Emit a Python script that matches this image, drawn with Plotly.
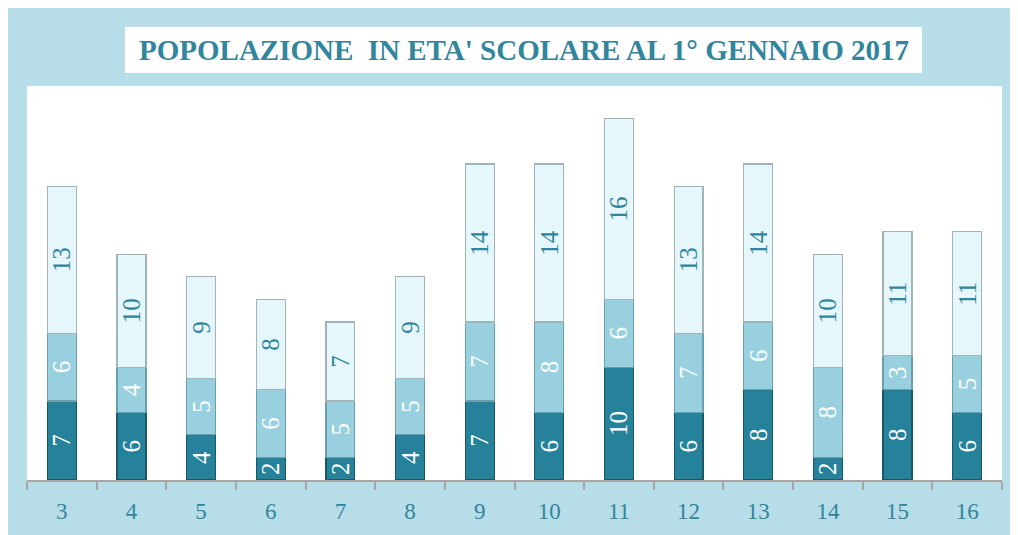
import plotly.graph_objects as go

categories = ["3", "4", "5", "6", "7", "8", "9", "10", "11", "12", "13", "14", "15", "16"]
series_bottom = [7, 6, 4, 2, 2, 4, 7, 6, 10, 6, 8, 2, 8, 6]
series_middle = [6, 4, 5, 6, 5, 5, 7, 8, 6, 7, 6, 8, 3, 5]
series_top = [13, 10, 9, 8, 7, 9, 14, 14, 16, 13, 14, 10, 11, 11]
title_text = "POPOLAZIONE  IN ETA' SCOLARE AL 1° GENNAIO 2017"

# the page body has an 8px margin, so the figure is drawn 8px smaller
OFF = 8
W, H = 1018 - OFF, 535 - OFF
PL, PR, PT, PB = 27, 1002, 86, 480  # plot area in screen coordinates
L, R, T, B = PL - OFF, W - (PR - OFF), PT - OFF, H - (PB - OFF)
pw, ph = PR - PL, PB - PT


def px(x):
    return (x - PL) / pw


def py(y):
    return (PB - y) / ph


TEAL = "#31859c"
FONT = "Liberation Serif"

fig = go.Figure()
specs = [
    (series_bottom, "#25829a", "#1a5866", "white"),
    (series_middle, "#98d0df", "#6a9fae", "white"),
    (series_top, "#e6f7fb", "#9fb3b8", TEAL),
]
for vals, fill, line, tcol in specs:
    fig.add_trace(go.Bar(
        x=categories, y=vals, text=[str(v) for v in vals],
        marker=dict(color=fill, line=dict(color=line, width=1.2)),
        textposition="inside", insidetextanchor="middle", textangle=-90,
        textfont=dict(family=FONT, size=25, color=tcol),
        hoverinfo="skip", showlegend=False,
    ))

fig.update_layout(
    width=W, height=H,
    barmode="stack", bargap=0.585,
    margin=dict(l=L, r=R, t=T, b=B, pad=0),
    paper_bgcolor="#b7dde8", plot_bgcolor="white",
    uniformtext=dict(minsize=25, mode="show"),
    xaxis=dict(
        type="category", showgrid=False, showline=True, linecolor="#a6a6a6", linewidth=1.5,
        ticks="outside", tickson="boundaries", ticklen=8, tickcolor="#a6a6a6", tickwidth=1.5,
        tickfont=dict(family=FONT, size=23, color=TEAL), ticklabelstandoff=10,
    ),
    yaxis=dict(range=[0, 34.9], visible=False, showgrid=False, zeroline=False),
    shapes=[
        dict(type="rect", xref="paper", yref="paper", layer="below",
             x0=px(125), x1=px(922), y0=py(73), y1=py(27),
             fillcolor="white", line=dict(width=0)),
    ],
    annotations=[
        dict(text="<b>" + title_text + "</b>", xref="paper", yref="paper",
             x=px(523.5), y=py(50), xanchor="center", yanchor="middle", showarrow=False,
             font=dict(family=FONT, size=29, color=TEAL)),
    ],
)

fig.write_html("out.html")
